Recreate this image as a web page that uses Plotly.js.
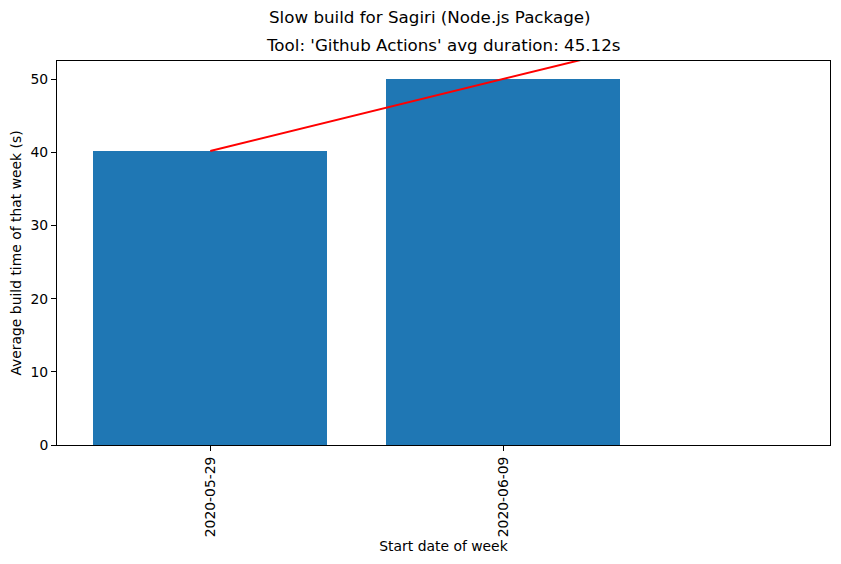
<!DOCTYPE html>
<html>
<head>
<meta charset="utf-8">
<script src="https://cdn.plot.ly/plotly-3.0.1.min.js"></script>
<style>html,body{margin:0;padding:0;background:#fff;}#chart{width:841px;height:564px;}</style>
</head>
<body>
<div id="chart"></div>
<script>
const weeks = ["2020-05-29", "2020-06-09"];
const avgDurations = [40.2, 50.04];
const suptitle = "Slow build for Sagiri (Node.js Package)";
const subtitle = "Tool: 'Github Actions' avg duration: 45.12s";

const idx = weeks.map((_, i) => i);
// linear trend fitted to the bar values, drawn from first week to index 2
const n = idx.length;
const mx = idx.reduce((a, b) => a + b, 0) / n;
const my = avgDurations.reduce((a, b) => a + b, 0) / n;
let sxy = 0, sxx = 0;
idx.forEach((x, i) => { sxy += (x - mx) * (avgDurations[i] - my); sxx += (x - mx) * (x - mx); });
const slope = sxy / sxx, icpt = my - slope * mx;
const trendX = [0, 2];
const trendY = trendX.map(x => icpt + slope * x);

const font = {family: "DejaVu Sans, sans-serif", color: "#000"};

Plotly.newPlot("chart", [
  {type: "bar", x: idx, y: avgDurations, width: 0.8, marker: {color: "#1f77b4", line: {width: 0}}, hoverinfo: "skip"},
  {type: "scatter", mode: "lines", x: trendX, y: trendY, line: {color: "red", width: 2}, hoverinfo: "skip", cliponaxis: true}
], {
  width: 841, height: 564,
  margin: {l: 57, r: 11, t: 61, b: 119, pad: 0},
  paper_bgcolor: "#fff", plot_bgcolor: "#fff",
  showlegend: false,
  font: Object.assign({size: 13.9}, font),
  bargap: 0,
  xaxis: {
    range: [-0.523, 2.115], tickvals: idx, ticktext: weeks, tickangle: -90,
    showgrid: false, zeroline: false, showline: true, linecolor: "#000", linewidth: 1, mirror: true,
    ticks: "outside", ticklen: 5, tickcolor: "#000", tickfont: Object.assign({size: 13.9}, font),
    title: {text: "Start date of week", font: Object.assign({size: 13.9}, font), standoff: 4}
  },
  yaxis: {
    range: [0, 52.5], tickvals: [0, 10, 20, 30, 40, 50],
    showgrid: false, zeroline: false, showline: true, linecolor: "#000", linewidth: 1, mirror: true,
    ticks: "outside", ticklen: 5, tickcolor: "#000", tickfont: Object.assign({size: 13.9}, font),
    title: {text: "Average build time of that week (s)", font: Object.assign({size: 13.9}, font), standoff: 5}
  },
  annotations: [
    {text: suptitle, xref: "paper", yref: "paper", x: 0.483, y: 1.115, xanchor: "center", yanchor: "middle", showarrow: false, font: Object.assign({size: 16.7}, font)},
    {text: subtitle, xref: "paper", yref: "paper", x: 0.5, y: 1.042, xanchor: "center", yanchor: "middle", showarrow: false, font: Object.assign({size: 16.7}, font)}
  ]
}, {staticPlot: true});
</script>
</body>
</html>
